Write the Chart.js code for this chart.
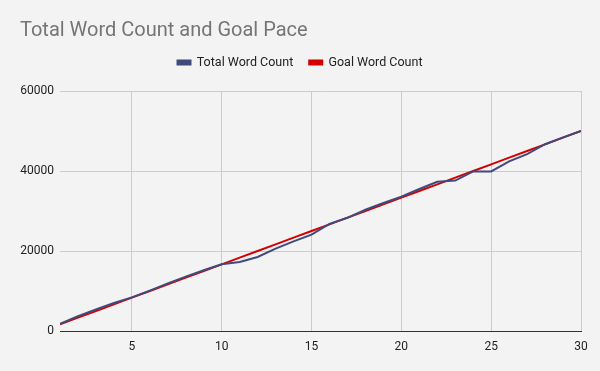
<!DOCTYPE html>
<html><head><meta charset="utf-8">
<script src="https://cdn.jsdelivr.net/npm/chart.js@4/dist/chart.umd.min.js"></script>
<style>html,body{margin:0;padding:0;background:#f3f3f3;}#wrap{width:600px;height:371px;}</style>
</head><body><div id="wrap"><canvas id="c" width="600" height="371"></canvas></div>
<script>
const days = [1,2,3,4,5,6,7,8,9,10,11,12,13,14,15,16,17,18,19,20,21,22,23,24,25,26,27,28,29,30];
const totalWordCount = [1800,3700,5400,7000,8400,10100,11900,13600,15200,16700,17250,18500,20600,22400,24100,26800,28300,30300,32000,33600,35500,37300,37600,39900,39900,42400,44200,46700,48400,50000];
const goalWordCount = [1667,3333,5000,6667,8333,10000,11667,13333,15000,16667,18333,20000,21667,23333,25000,26667,28333,30000,31667,33333,35000,36667,38333,40000,41667,43333,45000,46667,48333,50000];
const xTicks = [5,10,15,20,25,30];
const yTicks = [0,20000,40000,60000];

const bg = {id:'bg',beforeDraw(c){const x=c.ctx;x.save();x.fillStyle='#f3f3f3';x.fillRect(0,0,c.width,c.height);x.restore();}};
const place = {id:'place',afterLayout(c){
  const t=c.titleBlock, l=c.legend;
  if(t){const h=t.bottom-t.top; t.left=20; t.right=600; t.top=19; t.bottom=19+h;}
  if(l){const h=l.bottom-l.top; l.left=0; l.right=600; const top=62.5-16-6.25; l.top=top; l.bottom=top+h;}
}};

new Chart(document.getElementById('c'), {
  type:'line',
  data:{datasets:[
    {label:'Total Word Count',data:days.map((d,i)=>({x:d,y:totalWordCount[i]})),borderColor:'#3f4b7d',backgroundColor:'#3f4b7d',borderWidth:2,pointRadius:0,tension:0},
    {label:'Goal Word Count',data:days.map((d,i)=>({x:d,y:goalWordCount[i]})),borderColor:'#d40000',backgroundColor:'#d40000',borderWidth:2,pointRadius:0,tension:0}
  ]},
  plugins:[bg,place],
  options:{
    responsive:false,animation:false,devicePixelRatio:1,
    layout:{padding:{left:19,right:19,top:28.5,bottom:0}},
    plugins:{
      title:{display:true,text:'Total Word Count and Goal Pace',align:'start',color:'#757575',font:{family:'Roboto',size:20,weight:'normal',lineHeight:1.2},padding:0},
      legend:{display:true,labels:{color:'#222',font:{family:'Roboto',size:12.5},boxWidth:13,boxHeight:4,padding:16}},
      tooltip:{enabled:false}
    },
    scales:{
      x:{type:'linear',min:1,max:30,
        afterBuildTicks:s=>{s.ticks=xTicks.map(v=>({value:v}));},
        afterFit:s=>{s.height=40;},
        grid:{color:'#cccccc',drawTicks:false},
        border:{display:true,color:'#333333',width:1},
        ticks:{color:'#222',font:{family:'Roboto',size:12},padding:9,maxRotation:0}},
      y:{min:0,max:60000,
        afterBuildTicks:s=>{s.ticks=yTicks.map(v=>({value:v}));},
        afterFit:s=>{s.width=41;},
        grid:{color:'#cccccc',drawTicks:false},
        border:{display:false},
        ticks:{color:'#222',font:{family:'Roboto',size:12},padding:6,callback:v=>String(v)}}
    }
  }
});
</script></body></html>
